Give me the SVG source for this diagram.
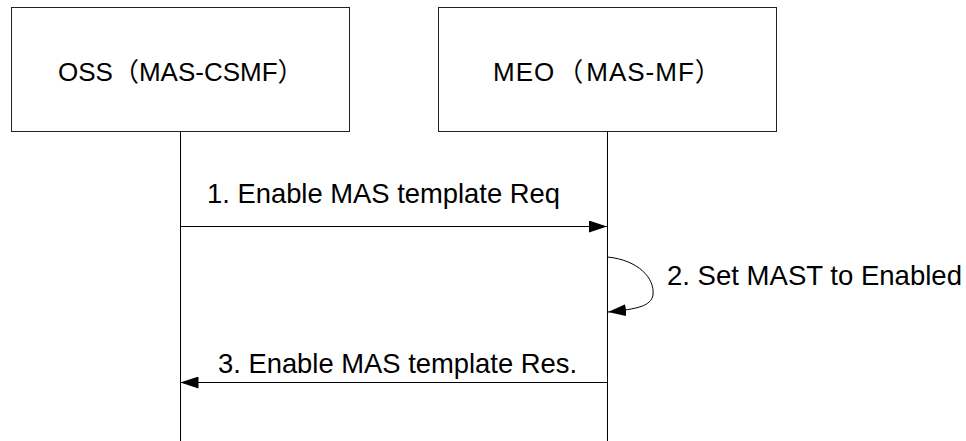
<svg xmlns="http://www.w3.org/2000/svg" width="966" height="441" viewBox="0 0 966 441">
<style>
.box{fill:#fff;stroke:#222;stroke-width:1}
.life{stroke:#000;stroke-width:1;fill:none}
.msg{stroke:#000;stroke-width:1;fill:none}
.lbl{font-family:"Liberation Sans","Noto Sans CJK SC",sans-serif;font-size:26px;fill:#000}
.cj{font-family:"Noto Sans CJK SC",sans-serif}
.mlbl{font-family:"Liberation Sans",sans-serif;font-size:28px;fill:#000}
</style>
<defs>
<marker id="ah" markerWidth="18" markerHeight="12" refX="18" refY="6" orient="auto" markerUnits="userSpaceOnUse">
<path d="M0,0 L18,6 L0,12 Z" fill="#000"/>
</marker>
</defs>
<rect width="966" height="441" fill="#fff"/>
<g id="oss">
<rect class="box" x="11.5" y="7.5" width="338" height="124"/>
<text class="lbl" x="58" y="81">OSS<tspan class="cj">（</tspan>MAS-CSMF<tspan class="cj">）</tspan></text>
</g>
<g id="meo">
<rect class="box" x="438.5" y="7.5" width="338" height="124"/>
<text class="lbl" x="493" y="81" letter-spacing="1">MEO<tspan class="cj" dx="2">（</tspan><tspan dx="2">MAS-MF</tspan><tspan class="cj">）</tspan></text>
</g>
<g id="connectors">
<line class="life" x1="180.5" y1="131.5" x2="180.5" y2="441"/>
<line class="life" x1="607.5" y1="131.5" x2="607.5" y2="441"/>
<line class="msg" x1="180.5" y1="226.5" x2="607" y2="226.5" marker-end="url(#ah)"/>
<path class="msg" d="M607.5,257 C638,260 655,278 653,295 C651,306 638,309 608,312" marker-end="url(#ah)"/>
<line class="msg" x1="607" y1="382.5" x2="180.5" y2="382.5" marker-end="url(#ah)"/>
</g>
<text class="mlbl" x="207" y="203" textLength="353" lengthAdjust="spacingAndGlyphs">1. Enable MAS template Req</text>
<text class="mlbl" x="667" y="285" textLength="295" lengthAdjust="spacingAndGlyphs">2. Set MAST to Enabled</text>
<text class="mlbl" x="218" y="373" textLength="359" lengthAdjust="spacingAndGlyphs">3. Enable MAS template Res.</text>
</svg>
